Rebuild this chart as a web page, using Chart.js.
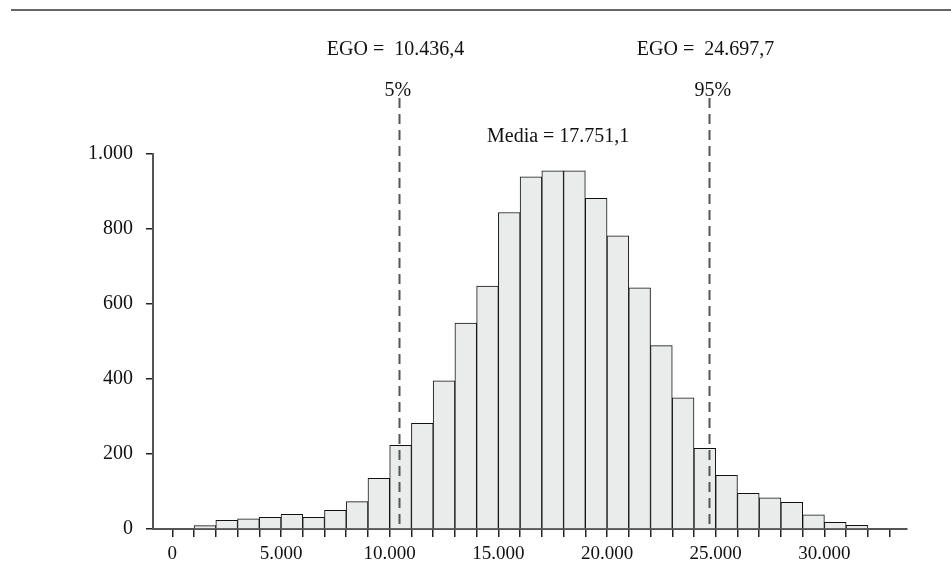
<!DOCTYPE html>
<html>
<head>
<meta charset="utf-8">
<script src="https://cdn.jsdelivr.net/npm/chart.js@4.4.1/dist/chart.umd.min.js"></script>
<style>
  html, body { margin: 0; padding: 0; background: #fff; }
  #wrap { width: 951px; height: 579px; }
</style>
</head>
<body>
<div id="wrap"><canvas id="hist" width="951" height="579"></canvas></div>
<script>
// ===== DATA =====

// lower edge of each histogram bin (bin width 1.000)
const binStarts = [1000, 2000, 3000, 4000, 5000, 6000, 7000, 8000, 9000, 10000,
                   11000, 12000, 13000, 14000, 15000, 16000, 17000, 18000, 19000, 20000,
                   21000, 22000, 23000, 24000, 25000, 26000, 27000, 28000, 29000, 30000, 31000];
const binWidth = 1000;

// frequency per bin
const counts = [9, 23, 27, 31, 39, 31, 50, 73, 135, 223,
                282, 395, 549, 648, 844, 939, 955, 955, 882, 782,
                643, 489, 350, 215, 143, 95, 83, 71, 38, 18, 10];

// percentile markers and mean
const markerValues = [10436.4, 24697.7];
const markerPercent = ['5%', '95%'];
const markerTexts = ['EGO =  10.436,4', 'EGO =  24.697,7'];
const meanValue = 17751.1;
const meanText = 'Media = 17.751,1';

// axis ticks
const xLabelValues = [0, 5000, 10000, 15000, 20000, 25000, 30000];
const xTickLast = 33000;
const yTicks = [0, 200, 400, 600, 800, 1000];

// ===== HELPERS =====

const FONT = 'Liberation Serif, Times New Roman, serif';

// 5000 -> "5.000"
function fmt(n) {
  return String(n).replace(/\B(?=(\d{3})+(?!\d))/g, '.');
}

// dashed percentile lines + labels, mean label, top rule
const markerPlugin = {
  id: 'markers',
  beforeDraw(chart) {
    const c = chart.ctx;
    c.save();
    c.fillStyle = '#666';
    c.fillRect(11, 9, chart.width - 11, 2);
    c.restore();
  },
  afterDatasetsDraw(chart) {
    const c = chart.ctx;
    const x = chart.scales.x;
    const area = chart.chartArea;
    c.save();
    c.font = '20px ' + FONT;
    c.fillStyle = '#111';
    c.textBaseline = 'alphabetic';
    markerValues.forEach((v, i) => {
      const px = Math.round(x.getPixelForValue(v)) + 0.5;
      c.strokeStyle = '#555';
      c.lineWidth = 2;
      c.setLineDash([10, 6]);
      c.beginPath();
      c.moveTo(px, 98);
      c.lineTo(px, area.bottom);
      c.stroke();
      c.setLineDash([]);
      c.textAlign = 'left';
      c.fillText(markerPercent[i], px - 15, 95.5);
      c.textAlign = 'center';
      c.fillText(markerTexts[i], px - 4, 54.5);
    });
    c.textAlign = 'center';
    c.fillText(meanText, x.getPixelForValue(meanValue), 141.5);
    c.restore();
  }
};

// ===== CHART =====

new Chart(document.getElementById('hist'), {
  type: 'bar',
  data: {
    datasets: [{
      data: binStarts.map((s, i) => ({ x: s + binWidth / 2, y: counts[i] })),
      backgroundColor: '#eaeceb',
      borderColor: '#111',
      borderWidth: 1,
      barPercentage: 1,
      categoryPercentage: 1
    }]
  },
  options: {
    responsive: false,
    animation: false,
    devicePixelRatio: 1,
    layout: { padding: { top: 154, right: 44, left: 0, bottom: 0 } },
    plugins: { legend: { display: false }, tooltip: { enabled: false } },
    scales: {
      x: {
        type: 'linear',
        min: -890,
        max: 33800,
        offset: false,
        afterFit: s => { s.height = 50; },
        afterBuildTicks: s => {
          const t = [];
          for (let v = 0; v <= xTickLast; v += binWidth) t.push({ value: v });
          s.ticks = t;
        },
        grid: { offset: false, drawOnChartArea: false, drawTicks: true, tickLength: 8, color: '#222', lineWidth: 1.5 },
        border: { display: true, color: '#555', width: 2 },
        ticks: {
          autoSkip: false, maxRotation: 0, minRotation: 0, padding: 6,
          color: '#111', font: { family: FONT, size: 19 },
          callback: v => xLabelValues.includes(v) ? fmt(v) : ''
        }
      },
      y: {
        min: 0,
        max: 1000,
        afterFit: s => { s.width = 153; },
        afterBuildTicks: s => { s.ticks = yTicks.map(v => ({ value: v })); },
        grid: { drawOnChartArea: false, drawTicks: true, tickLength: 7, color: '#222', lineWidth: 1.5 },
        border: { display: true, color: '#555', width: 2 },
        ticks: {
          padding: 13, color: '#111', font: { family: FONT, size: 20 },
          callback: v => fmt(v)
        }
      }
    }
  },
  plugins: [markerPlugin]
});
</script>
</body>
</html>
